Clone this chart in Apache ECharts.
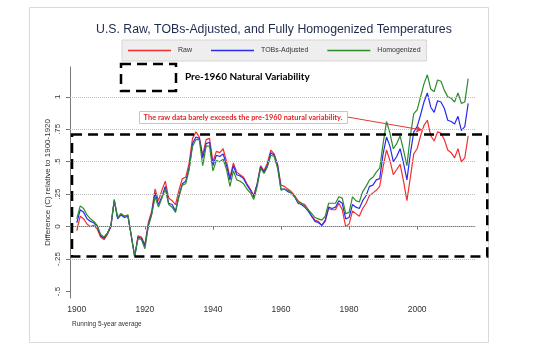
<!DOCTYPE html>
<html>
<head>
<meta charset="utf-8">
<script src="https://cdn.jsdelivr.net/npm/echarts@6/dist/echarts.min.js"></script>
<style>
html, body { margin: 0; padding: 0; background: #fff; }
#chart { width: 540px; height: 350px; }
</style>
</head>
<body>
<div id="chart"></div>
<script>
// running 5-year averages, difference (C) relative to 1900-1920
const years = [
    1900, 1901, 1902, 1903, 1904, 1905, 1906, 1907, 1908, 1909,
    1910, 1911, 1912, 1913, 1914, 1915, 1916, 1917, 1918, 1919,
    1920, 1921, 1922, 1923, 1924, 1925, 1926, 1927, 1928, 1929,
    1930, 1931, 1932, 1933, 1934, 1935, 1936, 1937, 1938, 1939,
    1940, 1941, 1942, 1943, 1944, 1945, 1946, 1947, 1948, 1949,
    1950, 1951, 1952, 1953, 1954, 1955, 1956, 1957, 1958, 1959,
    1960, 1961, 1962, 1963, 1964, 1965, 1966, 1967, 1968, 1969,
    1970, 1971, 1972, 1973, 1974, 1975, 1976, 1977, 1978, 1979,
    1980, 1981, 1982, 1983, 1984, 1985, 1986, 1987, 1988, 1989,
    1990, 1991, 1992, 1993, 1994, 1995, 1996, 1997, 1998, 1999,
    2000, 2001, 2002, 2003, 2004, 2005, 2006, 2007, 2008, 2009,
    2010, 2011, 2012, 2013, 2014, 2015
]
const raw = [
    -0.03, 0.08, 0.06, 0.02, 0.00, 0.01, -0.02, -0.08, -0.10, -0.06,
    0.00, 0.20, 0.07, 0.10, 0.08, 0.09, -0.07, -0.23, -0.07, -0.08,
    -0.14, 0.03, 0.12, 0.29, 0.20, 0.28, 0.35, 0.22, 0.20, 0.17,
    0.28, 0.37, 0.38, 0.49, 0.68, 0.73, 0.69, 0.55, 0.67, 0.68,
    0.50, 0.58, 0.57, 0.60, 0.50, 0.38, 0.49, 0.42, 0.40, 0.38,
    0.33, 0.29, 0.24, 0.33, 0.47, 0.43, 0.49, 0.59, 0.56, 0.48,
    0.32, 0.31, 0.29, 0.27, 0.24, 0.20, 0.18, 0.17, 0.13, 0.08,
    0.05, 0.04, 0.01, 0.04, 0.14, 0.13, 0.13, 0.18, 0.13, 0.00,
    0.02, 0.12, 0.10, 0.08, 0.14, 0.18, 0.24, 0.26, 0.28, 0.31,
    0.46, 0.59, 0.51, 0.40, 0.44, 0.48, 0.35, 0.20, 0.38, 0.56,
    0.60, 0.70, 0.78, 0.82, 0.70, 0.66, 0.73, 0.72, 0.67, 0.59,
    0.57, 0.53, 0.60, 0.50, 0.53, 0.70
]
const tobs = [
    0.03, 0.13, 0.11, 0.06, 0.04, 0.03, 0.00, -0.07, -0.09, -0.05,
    0.00, 0.20, 0.06, 0.09, 0.07, 0.08, -0.07, -0.23, -0.08, -0.09,
    -0.15, 0.01, 0.10, 0.26, 0.17, 0.23, 0.31, 0.18, 0.17, 0.12,
    0.24, 0.33, 0.35, 0.45, 0.64, 0.69, 0.68, 0.53, 0.64, 0.65,
    0.47, 0.55, 0.54, 0.56, 0.47, 0.36, 0.47, 0.40, 0.39, 0.37,
    0.32, 0.28, 0.23, 0.33, 0.46, 0.42, 0.47, 0.57, 0.55, 0.47,
    0.29, 0.29, 0.27, 0.26, 0.23, 0.18, 0.17, 0.15, 0.12, 0.08,
    0.04, 0.03, 0.01, 0.05, 0.15, 0.14, 0.15, 0.20, 0.18, 0.06,
    0.07, 0.17, 0.15, 0.14, 0.20, 0.24, 0.31, 0.32, 0.36, 0.37,
    0.56, 0.69, 0.62, 0.50, 0.54, 0.60, 0.49, 0.36, 0.56, 0.73,
    0.77, 0.86, 0.96, 1.03, 0.92, 0.88, 0.97, 0.96, 0.91, 0.82,
    0.81, 0.79, 0.85, 0.74, 0.77, 0.95
]
const homog = [
    0.06, 0.16, 0.14, 0.09, 0.06, 0.04, 0.01, -0.06, -0.08, -0.05,
    0.01, 0.21, 0.07, 0.10, 0.08, 0.09, -0.07, -0.23, -0.09, -0.10,
    -0.17, 0.00, 0.09, 0.23, 0.15, 0.22, 0.29, 0.17, 0.15, 0.11,
    0.23, 0.32, 0.33, 0.44, 0.62, 0.67, 0.67, 0.47, 0.62, 0.62,
    0.43, 0.51, 0.50, 0.52, 0.44, 0.31, 0.43, 0.36, 0.35, 0.33,
    0.29, 0.26, 0.21, 0.31, 0.45, 0.41, 0.46, 0.55, 0.54, 0.45,
    0.28, 0.29, 0.28, 0.26, 0.23, 0.19, 0.18, 0.16, 0.13, 0.10,
    0.07, 0.06, 0.05, 0.08, 0.18, 0.18, 0.18, 0.23, 0.22, 0.10,
    0.11, 0.23, 0.20, 0.19, 0.27, 0.31, 0.36, 0.38, 0.42, 0.45,
    0.64, 0.81, 0.72, 0.60, 0.64, 0.70, 0.59, 0.47, 0.70, 0.87,
    0.90, 1.00, 1.10, 1.17, 1.06, 1.04, 1.13, 1.12, 1.05, 1.00,
    0.99, 0.96, 1.03, 0.95, 0.96, 1.14
]
const xTicks = [1900, 1920, 1940, 1960, 1980, 2000]
const yTicks = [-0.5, -0.25, 0, 0.25, 0.5, 0.75, 1]
const gridVals = [-0.25, 0, 0.25, 0.5, 0.75, 1]

// pre-1960 natural variability band and the arrow of the note
const bandYears = [1898.6, 2020.6]
const bandVals = [0.71, -0.23]
const arrowFrom = [1979.4, 0.845]
const arrowTo = [2001.4, 0.745]

function pairs(vals) {
    let out = []
    for (let i = 0; i < years.length; i++) {
        out.push([years[i], vals[i]])
    }
    return out
}

function fmtY(v) {
    if (v === 0) return '0'
    if (v === 1) return '1'
    return String(v).replace('0.', '.')
}

const font = 'Liberation Sans'

let option = {
    animation: false,
    backgroundColor: '#fff',
    title: {
        text: 'U.S. Raw, TOBs-Adjusted, and Fully Homogenized Temperatures',
        left: 91,
        top: 19,
        textStyle: {fontFamily: font, fontSize: 12.3, fontWeight: 'normal', color: '#1d2a4d'}
    },
    legend: {
        data: ['Raw', 'TOBs-Adjusted', 'Homogenized'],
        left: 122,
        top: 40,
        padding: [7, 6],
        itemGap: 19,
        itemWidth: 43,
        itemHeight: 1.5,
        icon: 'rect',
        backgroundColor: '#eeeeee',
        borderColor: '#d6d6d6',
        borderWidth: 1,
        textStyle: {fontFamily: font, fontSize: 7, color: '#333', padding: [0, 0, 0, 2]}
    },
    grid: {left: 70, right: 65, top: 67, bottom: 52},
    xAxis: {
        type: 'value',
        min: 1898,
        max: 2017,
        axisLine: {lineStyle: {color: '#777', width: 1}},
        axisTick: {customValues: xTicks, length: 3, lineStyle: {color: '#777'}},
        axisLabel: {customValues: xTicks, fontFamily: font, fontSize: 8.5, color: '#333', margin: 7,
            formatter: v => String(v)},
        splitLine: {show: false}
    },
    yAxis: {
        type: 'value',
        min: -0.55,
        max: 1.23,
        name: 'Difference (C) relative to 1900-1920',
        nameLocation: 'middle',
        nameGap: 18,
        nameMoveOverlap: false,
        nameRotate: 90,
        nameTextStyle: {fontFamily: font, fontSize: 8, color: '#333'},
        axisLine: {show: true, lineStyle: {color: '#777', width: 1}},
        axisTick: {show: true, customValues: yTicks, length: 4, lineStyle: {color: '#777'}},
        axisLabel: {customValues: yTicks, rotate: 90, fontFamily: font, fontSize: 8, color: '#333', margin: 8, formatter: fmtY},
        splitLine: {show: false}
    },
    series: [
        {
            name: 'grid',
            type: 'line',
            data: [],
            z: 1,
            silent: true,
            markLine: {
                silent: true,
                symbol: ['none', 'none'],
                label: {show: false},
                lineStyle: {color: '#bdbdbd', type: 'dotted', width: 1},
                data: gridVals.map(v => ({yAxis: v}))
            }
        },
        {
            name: 'Raw',
            type: 'line',
            data: pairs(raw),
            showSymbol: false,
            symbol: 'none',
            color: '#f03030',
            lineStyle: {width: 1.2},
            markLine: {
                silent: true,
                symbol: ['none', 'arrow'],
                symbolSize: 6,
                label: {show: false},
                lineStyle: {color: '#e03a3a', width: 1, type: 'solid'},
                data: [[{coord: arrowFrom}, {coord: arrowTo}]]
            }
        },
        {
            name: 'TOBs-Adjusted',
            type: 'line',
            data: pairs(tobs),
            showSymbol: false,
            symbol: 'none',
            color: '#2a2af0',
            lineStyle: {width: 1.2}
        },
        {
            name: 'Homogenized',
            type: 'line',
            data: pairs(homog),
            showSymbol: false,
            symbol: 'none',
            color: '#2c8c2c',
            lineStyle: {width: 1.2}
        }
    ]
}

const dom = document.getElementById('chart')
const myChart = echarts.init(dom, null, {renderer: 'canvas'})
myChart.setOption(option)

const p1 = myChart.convertToPixel({gridIndex: 0}, [bandYears[0], bandVals[0]])
const p2 = myChart.convertToPixel({gridIndex: 0}, [bandYears[1], bandVals[1]])
const dash = {fill: 'none', stroke: '#000', lineWidth: 2.5, lineDash: [10, 6]}

myChart.setOption({
    graphic: [
        {type: 'rect', silent: true, z: -10, shape: {x: 29.5, y: 7.5, width: 459, height: 335},
            style: {fill: 'none', stroke: '#d9d9d9', lineWidth: 1}},
        {type: 'rect', silent: true, z: 50,
            shape: {x: p1[0], y: p1[1], width: p2[0] - p1[0], height: p2[1] - p1[1]}, style: dash},
        {type: 'rect', silent: true, z: 50, shape: {x: 121, y: 64, width: 55, height: 27}, style: dash},
        {type: 'text', silent: true, z: 50, x: 185, y: 77,
            style: {text: 'Pre-1960 Natural Variability', fill: '#000', font: 'bold 10px Lato', verticalAlign: 'middle'}},
        {type: 'rect', silent: true, z: 50, shape: {x: 139.5, y: 111.5, width: 208, height: 12},
            style: {fill: '#fff', stroke: '#f0b4b4', lineWidth: 1}},
        {type: 'text', silent: true, z: 51, x: 243, y: 117.5,
            style: {text: 'The raw data barely exceeds the pre-1960 natural variability.', fill: '#e02424',
                font: 'bold 7.4px Lato', align: 'center', verticalAlign: 'middle'}},
        {type: 'text', silent: true, z: 50, x: 72, y: 324,
            style: {text: 'Running 5-year average', fill: '#333', font: '6.5px "Liberation Sans"', verticalAlign: 'middle'}}
    ]
})
</script>
</body>
</html>
